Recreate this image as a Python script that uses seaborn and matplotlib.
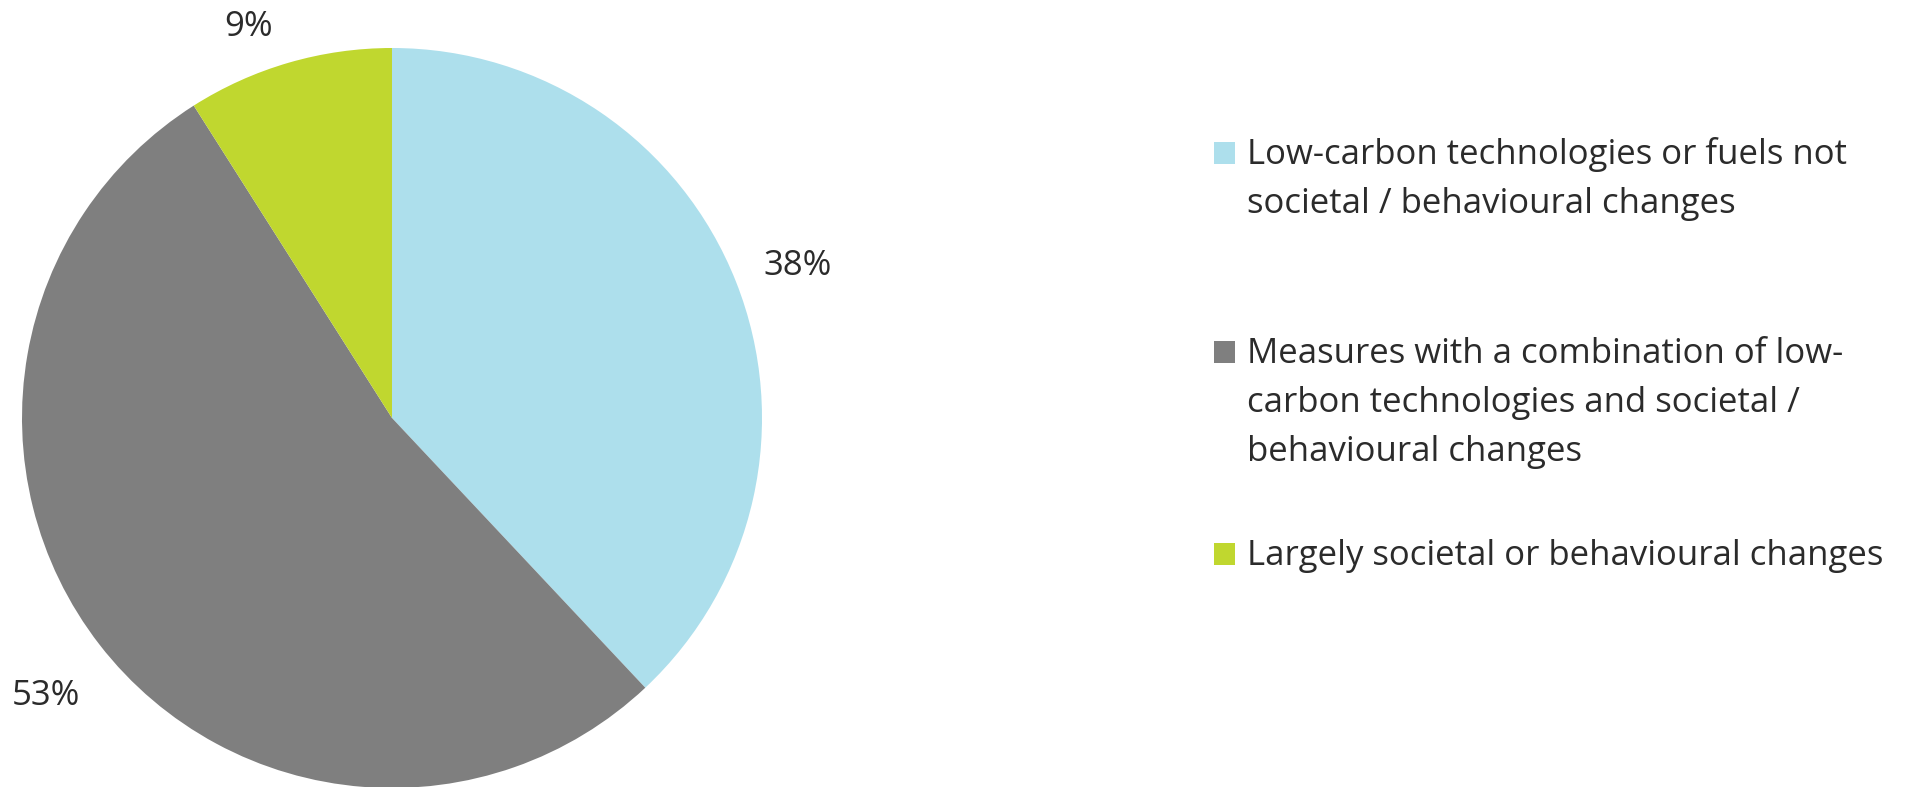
import matplotlib
matplotlib.use("Agg")
import matplotlib.pyplot as plt
import seaborn as sns
import numpy as np
from matplotlib.patches import Rectangle

# ---- data ----
categories = [
    "Low-carbon technologies or fuels not\nsocietal / behavioural changes",
    "Measures with a combination of low-\ncarbon technologies and societal /\nbehavioural changes",
    "Largely societal or behavioural changes",
]
shares = [38, 53, 9]
colors = ["#ADDFEC", "#7F7F7F", "#C0D72F"]

sns.set_theme(style="white")
plt.rcParams["font.family"] = ["Open Sans", "DejaVu Sans"]

W, H = 1916, 787
fig = plt.figure(figsize=(W / 100, H / 100), dpi=100)
fig.patch.set_facecolor("white")

cx, cy, r = 392, 418, 370
ax = fig.add_axes([(cx - r) / W, (H - cy - r) / H, 2 * r / W, 2 * r / H])
wedges, _ = ax.pie(
    shares,
    colors=colors,
    startangle=90,
    counterclock=False,
    radius=1.0,
    wedgeprops=dict(linewidth=0),
)
ax.set_xlim(-1, 1)
ax.set_ylim(-1, 1)
ax.set_aspect("equal")
ax.axis("off")

text_color = "#2b2b2b"
fs = 25
label_dist = [1.17, 1.20, 1.125]
label_shift = [-1.0, 1.0, 4.0]  # degrees
for w, v, d, s in zip(wedges, shares, label_dist, label_shift):
    ang = np.deg2rad((w.theta1 + w.theta2) / 2 + s)
    ax.text(d * np.cos(ang), d * np.sin(ang), f"{v}%", ha="center", va="center",
            fontsize=fs, color=text_color, clip_on=False)

# ---- legend (manual, first line aligned with swatch) ----
legend_x = 1214
text_x = 1247
sw_w, sw_h = 21, 22
first_baselines = [164, 363, 565]
line_gap = 49
for lab, col, yb in zip(categories, colors, first_baselines):
    fig.patches.append(Rectangle(((legend_x) / W, (H - yb) / H), sw_w / W, sw_h / H,
                                 transform=fig.transFigure, facecolor=col,
                                 edgecolor="none"))
    for i, line in enumerate(lab.split("\n")):
        fig.text(text_x / W, (H - yb - i * line_gap) / H, line, ha="left",
                 va="baseline", fontsize=fs, color=text_color)

fig.savefig("out.png", dpi=100, facecolor="white")
